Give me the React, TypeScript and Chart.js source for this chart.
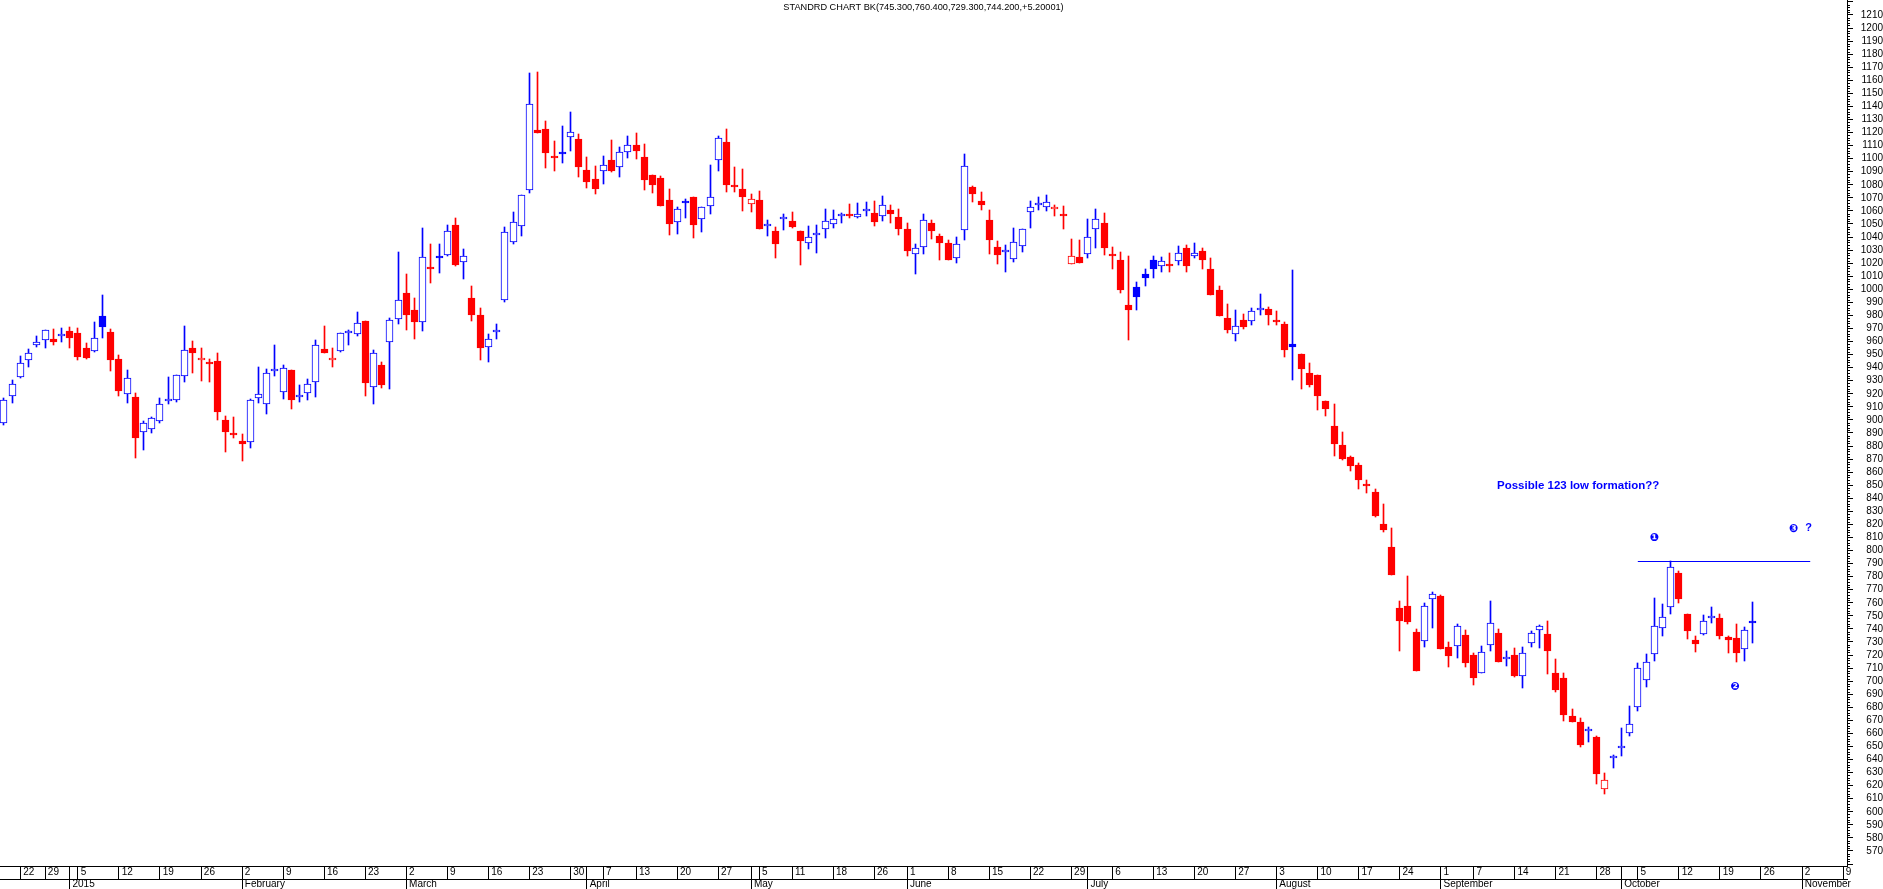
import React, { useEffect, useRef } from 'react';
import { Chart, registerables } from 'chart.js';

Chart.register(...registerables);

const TITLE = 'STANDRD CHART BK(745.300,760.400,729.300,744.200,+5.20001)';

// Daily OHLC, one entry per trading day (index 0 = 18 Dec 2014, last = 23 Oct 2015)
const opens = [
  897.5, 918.7, 932.7, 945.8, 957.2, 961.1, 961.8, 964.3, 968.2, 966.7,
  955.2, 952.4, 979.7, 967.4, 946.8, 919.7, 917.7, 890.6, 892.9, 899.0,
  914.6, 915.1, 933.5, 955.2, 945.7, 943.2, 945.2, 900.1, 890.1, 884.0,
  883.0, 916.7, 912.1, 937.1, 921.2, 938.4, 917.2, 920.5, 929.4, 954.2,
  945.7, 952.4, 966.9, 965.7, 975.9, 925.1, 942.2, 959.3, 977.1, 997.3,
  984.3, 975.0, 1015.8, 1024.5, 1026.6, 1049.3, 1020.7, 993.2, 980.0, 955.5,
  967.2, 991.9, 1036.1, 1048.3, 1075.9, 1121.8, 1122.8, 1100.6, 1104.3, 1116.4,
  1115.2, 1091.4, 1084.5, 1090.4, 1099.1, 1094.0, 1104.9, 1110.3, 1101.4, 1087.3,
  1085.0, 1068.2, 1051.4, 1066.4, 1070.8, 1053.7, 1063.9, 1098.8, 1112.9, 1078.6,
  1076.9, 1065.1, 1068.5, 1048.3, 1044.7, 1054.2, 1052.1, 1044.5, 1035.8, 1041.7,
  1046.0, 1049.8, 1056.2, 1057.7, 1055.7, 1060.2, 1058.5, 1056.2, 1060.8, 1055.4,
  1046.3, 1026.9, 1032.3, 1050.9, 1040.7, 1035.6, 1023.8, 1045.3, 1078.4, 1067.7,
  1053.2, 1032.5, 1028.7, 1023.1, 1033.0, 1059.1, 1064.5, 1062.9, 1061.4, 1056.2,
  1019.0, 1024.9, 1026.9, 1046.1, 1050.9, 1025.6, 1022.6, 988.1, 1001.9, 1011.8,
  1022.6, 1017.5, 1019.5, 1021.5, 1031.8, 1025.6, 1029.5, 1015.7, 999.6, 978.4,
  965.7, 976.6, 975.4, 983.8, 985.1, 975.6, 973.6, 958.0, 950.7, 936.3,
  934.6, 914.7, 895.6, 881.1, 871.8, 865.8, 850.2, 844.5, 820.7, 802.7,
  755.7, 757.9, 738.0, 730.6, 763.1, 765.0, 726.5, 727.1, 735.0, 719.7,
  706.3, 727.9, 736.6, 717.3, 719.7, 703.6, 729.0, 738.8, 735.8, 706.6,
  702.8, 673.6, 668.8, 661.7, 657.0, 617.2, 641.3, 648.9, 660.1, 680.0,
  700.7, 720.6, 740.5, 756.6, 782.9, 751.5, 731.6, 735.9, 748.6, 748.4,
  733.9, 733.1, 724.4, 745.3,
];

const highs = [
  916.7, 930.7, 949.1, 954.4, 964.4, 968.7, 969.7, 970.5, 971.3, 970.5,
  958.8, 975.1, 995.8, 969.7, 949.8, 938.4, 920.7, 898.8, 902.6, 916.7,
  933.0, 934.5, 972.0, 960.5, 955.2, 946.8, 951.4, 903.1, 902.4, 889.3,
  916.1, 940.9, 939.1, 957.0, 942.2, 938.4, 926.9, 931.5, 961.3, 972.0,
  955.2, 966.4, 969.0, 982.8, 975.9, 953.7, 944.2, 978.4, 1028.2, 1012.1,
  993.5, 1046.8, 1034.8, 1034.8, 1049.1, 1054.4, 1030.7, 1002.4, 985.5, 966.0,
  973.5, 1048.0, 1059.0, 1072.0, 1165.4, 1166.5, 1128.9, 1113.6, 1125.1, 1135.8,
  1119.0, 1101.4, 1094.5, 1102.1, 1114.4, 1108.8, 1117.5, 1119.5, 1111.3, 1087.3,
  1086.8, 1076.6, 1062.8, 1069.0, 1070.8, 1062.8, 1095.3, 1117.5, 1122.8, 1093.7,
  1092.2, 1072.8, 1075.4, 1053.2, 1047.8, 1057.7, 1059.0, 1044.5, 1048.6, 1049.3,
  1061.3, 1060.8, 1058.3, 1065.4, 1065.9, 1066.9, 1067.7, 1071.5, 1064.6, 1061.6,
  1050.9, 1034.8, 1057.8, 1052.7, 1042.5, 1037.9, 1040.2, 1103.7, 1079.2, 1074.6,
  1060.9, 1036.9, 1034.1, 1047.1, 1046.1, 1067.7, 1070.5, 1072.3, 1064.4, 1063.9,
  1038.6, 1037.9, 1054.0, 1061.6, 1058.6, 1032.3, 1028.4, 1025.6, 1005.7, 1015.7,
  1025.4, 1024.9, 1027.9, 1032.8, 1033.8, 1035.3, 1031.8, 1024.1, 1002.7, 988.9,
  984.3, 981.2, 985.8, 996.5, 986.8, 983.5, 974.6, 1014.9, 950.7, 943.9,
  934.6, 914.7, 912.2, 890.9, 872.6, 867.2, 854.0, 847.2, 835.5, 817.2,
  761.7, 780.9, 739.6, 759.5, 768.6, 765.8, 729.8, 743.7, 739.3, 721.6,
  727.1, 761.7, 740.2, 723.0, 725.2, 726.5, 738.5, 742.9, 746.2, 716.7,
  706.0, 678.9, 671.5, 664.8, 657.8, 629.5, 643.5, 663.9, 681.0, 713.7,
  720.9, 763.7, 759.1, 792.3, 784.4, 751.5, 734.6, 750.7, 756.9, 751.5,
  734.6, 744.1, 741.5, 760.4,
];

const lows = [
  896.2, 913.3, 932.0, 940.9, 955.7, 954.7, 957.0, 960.0, 954.7, 945.5,
  946.8, 952.0, 962.6, 937.8, 918.7, 913.3, 870.5, 876.6, 889.9, 898.0,
  912.1, 913.6, 929.4, 936.3, 929.9, 929.4, 900.1, 875.8, 885.8, 868.9,
  878.4, 912.6, 904.9, 934.0, 916.1, 908.5, 913.6, 914.9, 917.9, 950.9,
  940.9, 952.0, 957.0, 963.9, 918.4, 912.3, 924.3, 924.0, 973.6, 969.2,
  962.3, 968.0, 1004.7, 1012.8, 1025.8, 1017.9, 1007.7, 976.0, 946.0, 944.0,
  962.3, 990.0, 1035.0, 1041.1, 1074.0, 1119.5, 1092.5, 1090.9, 1097.0, 1105.5,
  1085.6, 1077.9, 1073.3, 1081.0, 1090.0, 1085.6, 1100.9, 1099.8, 1076.1, 1074.1,
  1063.4, 1041.2, 1042.7, 1054.9, 1039.6, 1043.5, 1058.0, 1090.2, 1074.8, 1074.8,
  1060.3, 1058.8, 1046.0, 1041.1, 1024.3, 1045.7, 1047.3, 1018.7, 1031.0, 1028.1,
  1039.6, 1046.8, 1050.6, 1054.9, 1054.9, 1056.5, 1048.8, 1052.6, 1051.1, 1041.9,
  1025.6, 1011.6, 1027.2, 1038.6, 1022.6, 1022.6, 1020.5, 1038.1, 1066.5, 1060.9,
  1027.4, 1019.0, 1012.9, 1020.8, 1028.2, 1047.3, 1060.9, 1060.3, 1056.5, 1046.3,
  1019.0, 1019.8, 1023.6, 1032.0, 1026.4, 1015.9, 997.3, 961.3, 984.5, 1002.9,
  1009.0, 1012.9, 1012.9, 1018.5, 1012.9, 1023.6, 1015.7, 995.3, 979.2, 966.9,
  960.8, 969.8, 972.3, 980.0, 972.8, 972.3, 947.8, 930.2, 923.4, 925.1,
  907.3, 902.7, 872.6, 869.1, 860.6, 847.0, 843.7, 825.9, 813.9, 781.1,
  723.0, 744.0, 707.7, 726.5, 740.7, 724.3, 710.7, 717.5, 710.7, 697.0,
  706.0, 723.0, 714.8, 711.5, 703.3, 694.8, 726.5, 725.7, 705.8, 691.6,
  669.5, 668.5, 649.5, 653.5, 621.2, 613.4, 633.3, 643.0, 658.3, 677.5,
  695.8, 715.8, 734.9, 751.2, 760.2, 732.6, 722.7, 735.6, 744.9, 732.4,
  721.9, 715.0, 715.8, 729.3,
];

const closes = [
  915.4, 927.6, 943.5, 951.1, 959.5, 968.7, 960.0, 964.6, 963.1, 947.8,
  947.5, 962.6, 971.5, 945.5, 921.8, 932.0, 886.5, 897.5, 901.3, 912.1,
  915.2, 934.5, 953.4, 951.6, 947.5, 942.9, 905.7, 890.4, 888.1, 881.2,
  915.4, 919.7, 936.1, 938.9, 939.6, 915.4, 918.7, 927.6, 957.2, 951.6,
  947.3, 966.4, 967.4, 974.1, 928.6, 951.1, 927.1, 976.4, 991.9, 980.7,
  974.6, 1024.6, 1015.2, 1024.2, 1044.5, 1018.7, 1025.3, 980.7, 955.1, 962.3,
  967.8, 1043.7, 1051.4, 1072.0, 1141.7, 1120.0, 1104.7, 1100.2, 1103.7, 1120.3,
  1094.0, 1082.5, 1077.1, 1095.0, 1090.2, 1104.9, 1110.3, 1106.2, 1084.0, 1080.2,
  1064.1, 1050.3, 1061.3, 1066.0, 1049.6, 1062.8, 1070.8, 1115.7, 1080.2, 1078.2,
  1070.5, 1069.0, 1046.3, 1048.8, 1035.0, 1054.6, 1048.0, 1036.6, 1039.9, 1043.4,
  1052.1, 1053.7, 1056.6, 1056.2, 1057.5, 1060.6, 1051.9, 1064.4, 1058.0, 1046.5,
  1029.0, 1031.5, 1053.2, 1045.0, 1035.8, 1022.6, 1034.6, 1094.5, 1072.6, 1064.2,
  1038.1, 1025.9, 1029.3, 1036.1, 1046.1, 1062.9, 1064.9, 1066.7, 1062.9, 1055.9,
  1025.4, 1019.8, 1039.9, 1053.7, 1032.0, 1025.3, 999.1, 984.5, 994.0, 1008.3,
  1015.9, 1021.5, 1017.5, 1027.7, 1017.5, 1027.7, 1022.8, 996.0, 979.2, 968.5,
  971.8, 971.3, 983.3, 984.2, 980.5, 975.3, 953.2, 955.7, 938.7, 927.0,
  918.0, 908.1, 881.4, 870.4, 864.4, 853.8, 849.8, 826.7, 815.5, 781.1,
  745.9, 745.6, 707.7, 757.6, 766.4, 724.9, 718.9, 742.6, 713.9, 702.5,
  722.4, 744.8, 714.8, 717.7, 703.8, 721.9, 736.6, 742.1, 723.0, 693.5,
  673.8, 668.8, 650.9, 662.2, 628.7, 624.4, 641.7, 649.4, 667.0, 709.9,
  714.7, 742.0, 748.9, 787.2, 763.2, 738.7, 728.8, 745.9, 749.0, 734.9,
  731.3, 721.9, 739.0, 744.2,
];

// x-axis: trading-day index of each week start, with its day-of-month label
const weekTickIndex = [
  2, 5, 9, 14, 19, 24, 29, 34, 39, 44, 49, 54, 59, 64, 69, 73, 77, 82, 87, 92, 96, 101, 106,
  110, 115, 120, 125, 130, 135, 140, 145, 150, 155, 160, 165, 170, 175, 179, 184, 189, 194,
  199, 204, 209, 214, 219, 224,
];
const weekTickLabels = [
  '22', '29', '5', '12', '19', '26', '2', '9', '16', '23', '2', '9', '16', '23', '30', '7', '13',
  '20', '27', '5', '11', '18', '26', '1', '8', '15', '22', '29', '6', '13', '20', '27', '3', '10',
  '17', '24', '1', '7', '14', '21', '28', '5', '12', '19', '26', '2', '9',
];
// month starts
const monthTickIndex = [8, 29, 49, 71, 91, 110, 132, 155, 175, 197, 219];
const monthTickLabels = [
  '2015', 'February', 'March', 'April', 'May', 'June', 'July', 'August', 'September', 'October', 'November',
];

// y-axis labelled range
const yLabelMin = 570;
const yLabelMax = 1210;
const yTickValues: number[] = [];
for (let v = 560; v <= 1220; v += 10) yTickValues.push(v);

// annotations (data coordinates)
const resistanceLevel = 792.3;
const resistanceFrom = 199;
const resistanceTo = 220;
const noteText = 'Possible 123 low formation??';
const noteIndex = 181.85;
const noteValue = 849.5;
const markerLabels = ['\u2776', '\u2777', '\u2778', '?'];
const markerIndex = [201.0, 210.84, 217.94, 219.8];
const markerValue = [809.3, 695.8, 816.2, 817.3];

const X_MIN = -0.4872;
const X_MAX = 224.48;
const Y_MIN = 558.51;
const Y_MAX = 1221.48;

const BLUE = '#0000ff';
const RED = '#ff0000';
const FONT_FAMILY = '"Liberation Sans", Arial, sans-serif';

const isUp = (i: number) => i === 0 || closes[i] >= closes[i - 1];
const colorOf = (i: number) => (isUp(i) ? BLUE : RED);
const isFilled = (i: number) => closes[i] < opens[i];

const dateRowTicks = Array.from(new Set([...weekTickIndex, ...monthTickIndex])).sort((a, b) => a - b);
const dateLabelOf = (v: number) => {
  const k = weekTickIndex.indexOf(Math.round(v));
  return k >= 0 ? ' ' + weekTickLabels[k] : '';
};
const monthLabelOf = (v: number) => {
  const k = monthTickIndex.indexOf(Math.round(v));
  return k >= 0 ? ' ' + monthTickLabels[k] : '';
};

const zeroPad = (s: any) => {
  s.paddingLeft = 0;
  s.paddingRight = 0;
  s.paddingTop = 0;
  s.paddingBottom = 0;
};

const overlayPlugin = {
  id: 'overlay',
  beforeDatasetsDraw(chart: any) {
    chart.data.datasets.forEach((ds: any, di: number) => {
      const meta = chart.getDatasetMeta(di);
      if (meta.type === 'bar') {
        meta.data.forEach((el: any) => {
          el.x = Math.floor(el.x) + 0.5;
          el.y = Math.round(el.y);
          el.base = Math.round(el.base);
          if (ds.minBarLength && Math.abs(el.base - el.y) < 2) el.base = el.y + 2;
        });
      } else if (meta.type === 'line') {
        meta.data.forEach((el: any) => {
          el.y = Math.round(el.y) + 0.5;
        });
      }
    });
  },
  afterDraw(chart: any) {
    const { ctx, chartArea, scales } = chart;
    const xs = scales.x;
    const ys = scales.y;
    ctx.save();
    // title
    ctx.fillStyle = '#000';
    ctx.font = '9.2px ' + FONT_FAMILY;
    ctx.textAlign = 'center';
    ctx.textBaseline = 'middle';
    ctx.fillText(TITLE, (chartArea.left + chartArea.right) / 2, 7);
    // minor y ticks
    ctx.strokeStyle = '#000';
    ctx.lineWidth = 1;
    ctx.beginPath();
    for (let v = 560; v <= 1220; v += 2) {
      if (v % 10 === 0) continue;
      const py = Math.round(ys.getPixelForValue(v)) + 0.5;
      ctx.moveTo(ys.left, py);
      ctx.lineTo(ys.left + 3, py);
    }
    ctx.stroke();
    // annotation text
    ctx.fillStyle = BLUE;
    ctx.font = 'bold 11.5px ' + FONT_FAMILY;
    ctx.textAlign = 'left';
    ctx.textBaseline = 'middle';
    ctx.fillText(noteText, xs.getPixelForValue(noteIndex), ys.getPixelForValue(noteValue));
    ctx.textAlign = 'center';
    markerLabels.forEach((m, k) => {
      ctx.font = m === '?' ? 'bold 11px ' + FONT_FAMILY : 'bold 11px "DejaVu Sans", sans-serif';
      ctx.fillText(m, xs.getPixelForValue(markerIndex[k]), ys.getPixelForValue(markerValue[k]));
    });
    ctx.restore();
  },
};

export default function App() {
  const ref = useRef<HTMLCanvasElement>(null);

  useEffect(() => {
    const canvas = ref.current;
    if (!canvas) return;
    const idx = closes.map((_, i) => i);
    const tickFont = { family: FONT_FAMILY, size: 10 };

    const chart = new Chart(canvas, {
      type: 'bar',
      data: {
        datasets: [
          {
            type: 'line',
            label: 'resistance',
            data: [
              { x: resistanceFrom, y: resistanceLevel },
              { x: resistanceTo, y: resistanceLevel },
            ],
            borderColor: BLUE,
            borderWidth: 1,
            pointRadius: 0,
            fill: false,
            order: 0,
          } as any,
          {
            label: 'body',
            data: idx.map((i) => ({ x: i, y: [opens[i], closes[i]] })),
            backgroundColor: (c: any) => (isFilled(c.dataIndex) ? colorOf(c.dataIndex) : '#ffffff'),
            borderColor: (c: any) => colorOf(c.dataIndex),
            borderWidth: 1,
            borderSkipped: false,
            barThickness: 7,
            minBarLength: 2,
            grouped: false,
            order: 1,
          } as any,
          {
            label: 'wick',
            data: idx.map((i) => ({ x: i, y: [lows[i], highs[i]] })),
            backgroundColor: (c: any) => colorOf(c.dataIndex),
            borderWidth: 0,
            barThickness: 1,
            grouped: false,
            order: 2,
          } as any,
        ],
      },
      options: {
        responsive: false,
        animation: false,
        events: [],
        layout: { padding: 0 },
        plugins: {
          legend: { display: false },
          tooltip: { enabled: false },
          title: { display: false },
        },
        scales: {
          x: {
            type: 'linear',
            position: 'bottom',
            min: X_MIN,
            max: X_MAX,
            offset: false,
            weight: 0,
            afterBuildTicks: (s: any) => {
              s.ticks = dateRowTicks.map((v) => ({ value: v }));
            },
            afterFit: (s: any) => {
              s.height = 13;
              zeroPad(s);
            },
            ticks: {
              autoSkip: false,
              maxRotation: 0,
              minRotation: 0,
              align: 'start',
              padding: -13,
              color: '#000',
              font: tickFont,
              callback: (v: any) => dateLabelOf(Number(v)),
            },
            grid: {
              display: true,
              drawOnChartArea: false,
              drawTicks: true,
              tickLength: 13,
              tickColor: '#000',
              tickWidth: 1,
              color: '#000',
              offset: false,
            },
            border: { display: true, color: '#000', width: 1 },
          },
          x2: {
            type: 'linear',
            position: 'bottom',
            axis: 'x',
            min: X_MIN,
            max: X_MAX,
            offset: false,
            weight: 1,
            afterBuildTicks: (s: any) => {
              s.ticks = monthTickIndex.map((v) => ({ value: v }));
            },
            afterFit: (s: any) => {
              s.height = 10;
              zeroPad(s);
            },
            ticks: {
              autoSkip: false,
              maxRotation: 0,
              minRotation: 0,
              align: 'start',
              padding: -11,
              color: '#000',
              font: tickFont,
              callback: (v: any) => monthLabelOf(Number(v)),
            },
            grid: {
              display: true,
              drawOnChartArea: false,
              drawTicks: true,
              tickLength: 10,
              tickColor: '#000',
              tickWidth: 1,
              color: '#000',
              offset: false,
            },
            border: { display: true, color: '#000', width: 1 },
          },
          y: {
            type: 'linear',
            position: 'right',
            min: Y_MIN,
            max: Y_MAX,
            afterBuildTicks: (s: any) => {
              s.ticks = yTickValues.map((v) => ({ value: v }));
            },
            afterFit: (s: any) => {
              s.width = 36;
              zeroPad(s);
            },
            ticks: {
              autoSkip: false,
              crossAlign: 'far',
              padding: 5,
              color: '#000',
              font: tickFont,
              callback: (v: any) => {
                const n = Math.round(Number(v));
                return n >= yLabelMin && n <= yLabelMax ? String(n) : '';
              },
            },
            grid: {
              display: true,
              drawOnChartArea: false,
              drawTicks: true,
              tickLength: 6,
              tickColor: '#000',
              tickWidth: 1,
            },
            border: { display: true, color: '#000', width: 1 },
          },
        } as any,
      },
      plugins: [overlayPlugin],
    } as any);

    return () => chart.destroy();
  }, []);

  return (
    <div style={{ position: 'fixed', left: 0, top: 0, width: 1883, height: 889, background: '#ffffff' }}>
      <canvas ref={ref} width={1883} height={889} style={{ display: 'block', width: 1883, height: 889 }} />
    </div>
  );
}
